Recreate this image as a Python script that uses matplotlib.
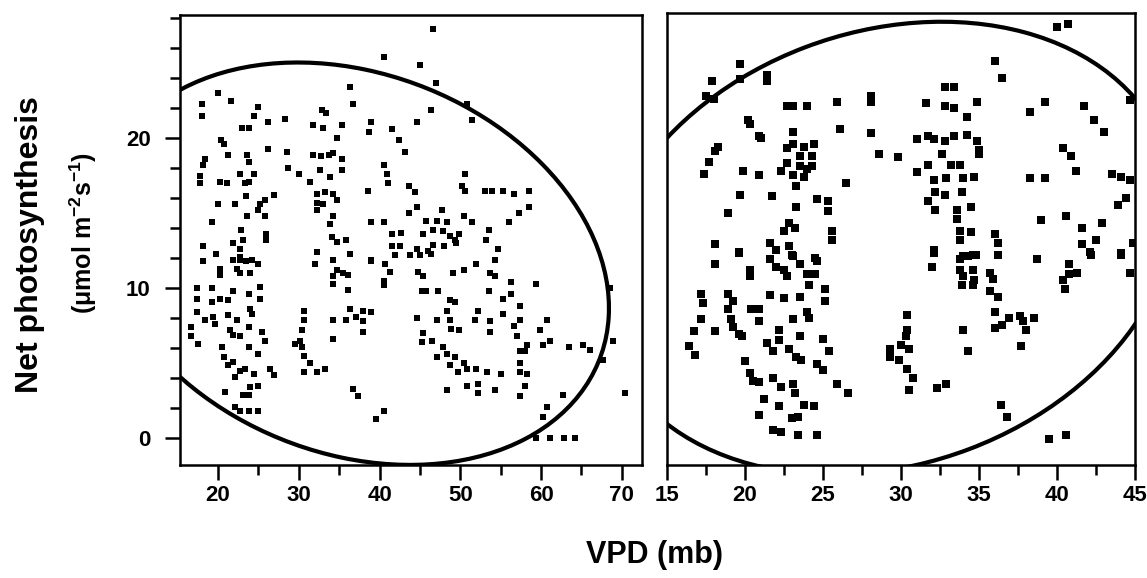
import numpy as np
import matplotlib.pyplot as plt
from matplotlib.patches import Ellipse
from matplotlib.ticker import MultipleLocator

# left panel points
left_x = [46.65, 40.6, 45.0, 47.0, 36.3, 36.7, 20.0, 18.0, 21.6, 25.0, 18.0, 32.9, 33.4, 46.4, 50.8, 51.4,
          44.6, 23.0, 23.9, 24.4, 26.2, 28.3, 31.8, 33.0, 35.4, 39.0, 38.7, 41.5, 34.7, 42.4, 20.4, 20.7,
          26.2, 28.5, 21.3, 23.6, 23.9, 18.4, 18.2, 31.8, 32.8, 33.7, 34.3, 35.4, 35.4, 43.1, 40.6, 40.9,
          28.7, 30.0, 31.4, 32.6, 33.9, 22.7, 24.4, 23.9, 23.3, 20.2, 21.1, 17.8, 17.8, 50.6, 41.1, 38.6,
          43.6, 44.4, 50.2, 50.6, 53.1, 53.9, 55.3, 56.6, 58.5, 58.5, 32.2, 33.2, 34.3, 32.2, 33.0, 34.7,
          32.2, 34.3, 33.9, 23.5, 25.2, 25.8, 26.9, 25.0, 20.0, 22.1, 23.6, 19.2, 25.8, 39.0, 40.6, 43.6,
          44.6, 45.8, 47.1, 47.7, 48.3, 50.4, 51.4, 53.5, 56.0, 57.3, 41.5, 42.7, 45.4, 46.6, 47.9, 48.7,
          49.3, 49.9, 53.2, 41.5, 42.5, 44.6, 46.0, 46.6, 48.0, 49.5, 54.7, 34.1, 34.7, 35.9, 32.2, 39.0,
          21.9, 22.7, 23.1, 22.9, 18.2, 19.8, 22.7, 24.2, 26.0, 26.0,
          19.8, 18.2, 20.3, 20.3, 21.9, 22.7, 23.5, 22.3, 24.0, 25.0, 22.7, 17.4, 19.2, 17.4, 19.2, 20.2,
          21.3, 21.9, 23.8, 25.2, 25.2, 17.4, 18.4, 19.4, 19.6, 21.3, 22.3, 24.0, 24.2, 16.7, 16.7, 17.5,
          21.5, 21.9, 22.7, 23.8, 25.4, 25.8, 20.5, 23.8, 25.0, 20.7, 21.3, 21.9, 22.1, 22.7, 23.3, 24.4,
          26.4, 26.9, 20.9, 23.1, 23.8, 25.0, 24.0, 22.1, 22.7, 23.8, 25.0, 30.6, 30.6, 30.4, 30.2, 29.5,
          30.4, 30.6, 31.4, 32.2, 33.2, 30.6, 34.3, 34.3, 32.0, 34.3, 34.7, 34.3, 35.5, 36.1, 34.3, 36.1,
          36.3, 35.9, 37.1, 37.9, 39.0, 37.9, 37.9, 36.7, 37.3, 39.6, 40.6, 36.3, 39.0, 40.7, 41.3, 40.5,
          40.5, 41.9, 43.8, 45.0, 46.4, 44.8, 45.4, 45.2, 45.8, 47.3, 49.1, 50.4, 48.7, 49.3, 48.3, 44.6,
          47.1, 45.4, 45.2, 46.5, 48.7, 48.9, 49.9, 47.9, 48.3, 49.3, 50.4, 48.7, 49.7, 50.8, 47.1, 48.3,
          50.8, 52.2, 52.2, 54.3, 52.0, 53.3, 55.1, 52.0, 54.3, 53.7, 54.3, 53.5, 56.3, 55.3, 56.3, 52.2,
          51.8, 53.7, 53.7, 55.3, 57.4, 57.4, 56.6, 57.0, 58.2, 57.4, 58.0, 57.4, 57.4, 58.2, 58.0, 57.4,
          59.4, 60.7, 59.9, 60.3, 61.1, 63.4, 65.2, 66.0, 67.7, 68.5, 68.9, 70.4, 62.7, 60.7, 60.3, 59.4,
          61.1, 62.9, 64.2]
left_y = [27.3, 25.4, 24.9, 23.7, 23.4, 22.3, 23.0, 22.3, 22.5, 22.1, 21.5, 21.9, 21.7, 21.9, 22.3, 21.2,
          21.1, 20.7, 20.7, 21.5, 21.1, 21.3, 20.9, 20.7, 20.9, 21.1, 20.4, 20.6, 20.0, 19.9, 19.9, 19.6,
          19.3, 19.1, 18.9, 18.9, 18.4, 18.6, 18.2, 18.9, 18.8, 18.9, 19.0, 18.6, 17.9, 19.1, 18.2, 17.6,
          18.0, 17.6, 17.1, 17.9, 17.4, 17.6, 17.6, 17.1, 17.0, 17.1, 17.0, 17.0, 17.5, 17.6, 17.0, 16.5,
          16.8, 16.4, 16.8, 16.5, 16.5, 16.5, 16.5, 16.3, 16.5, 15.4, 16.3, 16.4, 16.3, 15.7, 15.6, 15.9,
          15.2, 14.8, 14.3, 16.1, 15.6, 15.9, 16.2, 15.2, 15.6, 15.6, 14.8, 14.4, 14.8, 14.4, 14.4, 15.0,
          15.4, 14.5, 14.5, 15.2, 14.4, 14.8, 14.4, 13.9, 14.4, 15.0, 13.6, 13.7, 13.6, 13.9, 13.8, 13.5,
          13.2, 13.6, 13.2, 12.8, 12.8, 12.6, 12.5, 12.9, 12.8, 13.0, 12.6, 13.4, 13.1, 13.2, 12.4, 11.9,
          13.0, 12.6, 13.2, 13.9, 12.8, 12.3, 11.9, 11.9, 13.2, 13.6,
          12.3, 11.8, 11.3, 10.9, 11.9, 12.1, 11.8, 11.3, 11.0, 11.6, 11.0, 10.0, 10.0, 9.3, 9.1, 9.3,
          9.2, 9.8, 9.6, 10.1, 9.3, 8.4, 7.9, 8.1, 7.6, 8.2, 7.9, 8.6, 8.3, 7.4, 6.8, 6.3,
          7.2, 6.9, 6.8, 7.4, 7.1, 6.5, 6.1, 6.1, 5.6, 5.4, 4.9, 5.1, 4.1, 4.5, 4.6, 4.3,
          4.6, 4.2, 3.1, 2.9, 2.9, 3.5, 3.4, 2.1, 1.8, 1.8, 1.8, 8.5, 7.9, 7.2, 6.5, 6.3,
          6.1, 5.5, 5.0, 4.4, 4.6, 4.4, 7.9, 6.6, 11.6, 11.9, 11.2, 10.8, 11.0, 10.9, 10.3, 9.9,
          8.6, 7.9, 8.1, 8.5, 8.4, 7.8, 7.1, 3.3, 2.8, 1.3, 1.8, 12.3, 11.8, 11.6, 11.1, 10.5,
          10.2, 12.2, 12.2, 12.2, 12.3, 11.1, 10.8, 9.8, 9.8, 9.8, 11.0, 11.2, 9.2, 9.1, 8.5, 8.0,
          7.9, 7.0, 6.4, 6.5, 7.9, 7.3, 7.2, 6.1, 5.6, 5.4, 5.0, 4.9, 4.4, 4.6, 5.4, 3.2,
          3.5, 3.6, 3.0, 3.2, 4.6, 4.4, 4.3, 11.6, 11.9, 11.0, 10.8, 9.8, 10.4, 9.3, 9.6, 8.5,
          7.9, 7.8, 7.1, 8.3, 8.8, 7.9, 7.5, 6.8, 6.2, 5.8, 5.8, 5.0, 4.4, 4.3, 3.5, 2.8,
          10.3, 7.9, 7.2, 6.2, 6.5, 6.1, 6.2, 5.9, 5.2, 10.0, 6.5, 3.0, 2.9, 2.1, 1.4, 0.0,
          0.0, 0.0, 0.0]

# right panel points
right_x = [40.0, 40.7, 36.0, 36.5, 19.7, 17.9, 19.7, 21.4, 21.4, 17.5, 18.0, 22.7, 23.1, 24.0, 25.9, 28.1,
           28.1, 31.6, 32.8, 33.4, 32.8, 33.4, 34.9, 34.2, 39.2, 38.3, 41.7, 42.4, 43.0, 44.7, 20.2, 20.3,
           20.9, 21.0, 26.1, 28.1, 23.1, 23.1, 18.3, 18.1, 17.7, 17.4, 19.9, 20.9, 22.7, 23.8, 24.4, 23.5,
           24.3, 22.7, 22.3, 23.5, 24.3, 23.1, 23.8, 24.0, 26.5, 28.6, 29.8, 31.0, 31.7, 32.1, 32.8, 33.4,
           34.2, 34.9, 35.0, 35.0, 32.6, 33.2, 33.8, 31.0, 31.7, 32.1, 32.9, 34.0, 34.7, 32.2, 32.8, 33.9,
           31.7, 32.2, 33.6, 34.5, 33.6, 38.3, 39.2, 40.4, 40.9, 41.2, 43.5, 44.1, 44.7, 44.4, 43.9, 19.7,
           21.7, 23.3, 24.6, 25.3, 23.3, 25.3, 18.9, 22.8, 23.2, 22.5, 25.6, 25.6, 18.1, 19.6, 21.6, 22.0,
           22.8, 23.1, 24.5, 39.0, 40.6, 41.6, 42.9, 42.5, 41.6, 42.1, 44.1, 44.9, 32.1, 33.8, 34.5, 33.8,
           36.0, 36.2, 34.6, 34.0, 36.2,
           19.6, 18.1, 20.3, 20.3, 21.6, 22.0, 22.5, 22.7, 23.0, 23.5, 24.0, 24.5, 24.6, 24.1, 17.2, 17.3,
           18.9, 19.2, 18.9, 17.2, 18.1, 19.1, 19.2, 19.6, 19.8, 16.7, 16.4, 16.8, 20.4, 20.9, 20.9, 21.6,
           22.5, 23.5, 23.1, 24.0, 24.1, 23.5, 25.1, 25.1, 25.0, 25.4, 22.2, 22.2, 21.4, 21.8, 22.8, 23.3,
           23.6, 24.6, 25.0, 20.0, 20.3, 20.5, 20.9, 21.8, 22.3, 21.2, 22.2, 23.1, 23.2, 23.8, 24.4, 23.0,
           23.4, 20.9, 21.8, 22.3, 23.4, 24.6, 25.9, 26.6, 30.4, 30.4, 30.3, 30.0, 29.3, 29.3, 29.9, 30.5,
           30.4, 30.8, 30.5, 32.3, 32.9, 32.1, 32.0, 33.8, 34.3, 34.8, 33.8, 34.0, 34.6, 34.7, 33.9, 34.6,
           35.7, 35.9, 36.2, 35.7, 36.2, 36.0, 36.0, 36.5, 36.9, 37.6, 37.8, 38.0, 38.5, 37.7, 34.0, 34.3,
           38.7, 40.8, 40.4, 40.5, 40.8, 41.3, 42.2, 44.1, 44.7, 36.4, 36.8, 39.5, 40.6]
right_y = [27.4, 27.6, 25.1, 24.0, 24.9, 23.8, 23.9, 24.2, 23.8, 22.8, 22.6, 22.1, 22.1, 22.1, 22.4, 22.8,
           22.4, 22.3, 23.4, 23.4, 22.1, 22.0, 22.4, 21.4, 22.4, 21.7, 22.1, 21.2, 20.4, 22.5, 21.2, 20.9,
           20.1, 20.0, 20.6, 20.3, 20.4, 19.6, 19.4, 19.1, 18.4, 17.6, 17.8, 17.5, 19.3, 19.4, 19.6, 18.8,
           18.8, 18.3, 17.8, 18.1, 18.1, 17.5, 17.4, 17.9, 17.0, 18.9, 18.7, 19.9, 20.1, 19.9, 19.8, 20.1,
           20.2, 19.8, 19.2, 18.9, 18.9, 18.2, 18.2, 17.7, 18.2, 17.2, 17.3, 17.3, 17.4, 16.4, 16.2, 16.4,
           15.8, 15.2, 15.2, 15.4, 14.6, 17.3, 17.3, 19.3, 18.8, 17.8, 17.6, 17.4, 17.2, 16.0, 15.5, 16.2,
           16.1, 16.8, 15.9, 15.8, 15.4, 15.1, 15.0, 14.3, 14.0, 13.8, 13.8, 13.2, 12.9, 12.4, 13.0, 12.5,
           12.8, 12.1, 12.0, 14.5, 14.8, 14.0, 14.3, 13.2, 12.9, 12.4, 12.3, 13.0, 12.5, 13.8, 13.7, 13.2,
           13.6, 13.0, 12.2, 12.1, 12.2,
           12.3, 11.6, 11.2, 10.8, 11.9, 11.4, 11.2, 10.8, 12.2, 11.6, 10.9, 10.9, 11.8, 10.2, 9.6, 9.0,
           9.6, 9.1, 8.6, 7.9, 7.1, 7.9, 7.4, 6.9, 6.8, 7.1, 6.1, 5.5, 8.6, 8.6, 7.8, 9.5,
           9.3, 9.4, 7.9, 8.4, 8.0, 6.8, 9.9, 9.1, 6.6, 5.8, 7.2, 6.5, 6.3, 5.8, 5.9, 5.4,
           5.2, 4.9, 4.5, 5.1, 4.3, 3.8, 3.7, 4.0, 3.4, 2.6, 2.1, 3.6, 3.0, 2.2, 2.1, 1.3,
           1.4, 1.5, 0.5, 0.4, 0.2, 0.2, 3.6, 3.0, 8.2, 7.2, 6.8, 6.2, 5.9, 5.4, 5.2, 5.9,
           4.6, 4.0, 3.2, 3.3, 3.6, 12.3, 11.4, 11.9, 12.1, 12.2, 11.2, 10.8, 11.2, 10.5, 10.2, 10.2,
           11.0, 10.6, 12.2, 9.8, 9.4, 8.4, 7.3, 7.5, 8.0, 8.1, 7.8, 7.2, 8.0, 6.1, 7.2, 5.8,
           11.9, 11.6, 10.5, 9.9, 10.9, 11.0, 12.2, 12.2, 11.0, 2.2, 1.4, -0.1, 0.2]

# ellipses: centre x, centre y, width, height, angle (deg)
left_ellipse = (36.84, 11.62, 63.47, 26.03, -6.44)
right_ellipse = (29.12, 12.64, 37.99, 28.75, 21.49)

plt.rcParams['font.family'] = ['Liberation Sans', 'DejaVu Sans']
plt.rcParams['font.weight'] = 'bold'
plt.rcParams['mathtext.fontset'] = 'custom'
plt.rcParams['mathtext.rm'] = 'Liberation Sans:bold'
plt.rcParams['mathtext.it'] = 'Liberation Sans:bold'
plt.rcParams['mathtext.bf'] = 'Liberation Sans:bold'

fig = plt.figure(figsize=(11.47, 5.78), dpi=100)
ax1 = fig.add_axes([180 / 1147, 1 - 465 / 578, 462 / 1147, 450 / 578])
ax2 = fig.add_axes([667 / 1147, 1 - 465 / 578, 468 / 1147, 452 / 578])

for ax, xs, ys, el, ms in [(ax1, left_x, left_y, left_ellipse, 4),
                           (ax2, right_x, right_y, right_ellipse, 5.5)]:
    ax.plot(xs, ys, 's', color='black', ms=ms, mew=0)
    cx, cy, w, h, ang = el
    ax.add_patch(Ellipse((cx, cy), w, h, angle=ang, fill=False, lw=3, color='black'))
    for s in ax.spines.values():
        s.set_linewidth(1.8)
    ax.tick_params(axis='both', which='major', length=11, width=1.8, labelsize=16, direction='out')
    ax.tick_params(axis='both', which='minor', length=7, width=1.8, direction='out')

ax1.set_xlim(15.3, 72.5)
ax1.set_ylim(-1.8, 28.2)
ax1.xaxis.set_major_locator(MultipleLocator(10))
ax1.xaxis.set_minor_locator(MultipleLocator(5))
ax1.yaxis.set_major_locator(MultipleLocator(10))
ax1.yaxis.set_minor_locator(MultipleLocator(2))
ax1.tick_params(axis='y', which='major', pad=10)

ax2.set_xlim(15, 45)
ax2.set_ylim(-1.8, 28.3)
ax2.xaxis.set_major_locator(MultipleLocator(5))
ax2.xaxis.set_minor_locator(MultipleLocator(2.5))
ax2.set_yticks([])

fig.text(30 / 1147, 1 - 245 / 578, 'Net photosynthesis', rotation=90, ha='center', va='center',
         fontsize=23, fontweight='bold')
fig.text(83 / 1147, 1 - 233 / 578, r'(μmol m$^{-2}$s$^{-1}$)', rotation=90,
         ha='center', va='center', fontsize=18, fontweight='bold')
fig.text(655 / 1147, 1 - 555 / 578, 'VPD (mb)', ha='center', va='center', fontsize=22, fontweight='bold')

fig.savefig('out.png', dpi=100)
